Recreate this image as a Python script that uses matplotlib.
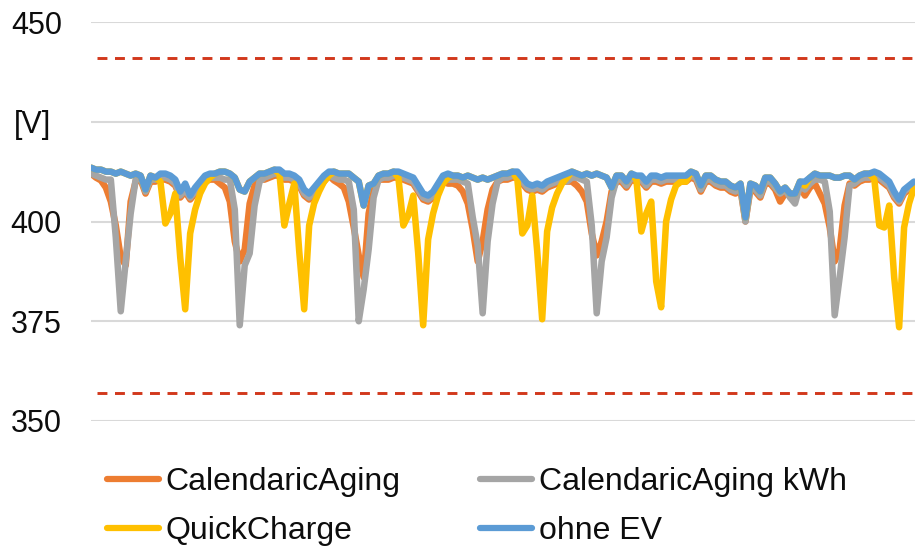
import numpy as np
import matplotlib
matplotlib.use("Agg")
import matplotlib.pyplot as plt
from matplotlib.lines import Line2D

plt.rcParams['font.family'] = ['Liberation Sans', 'DejaVu Sans']

# Hourly grid voltage over one week [V]
calendaric_aging = [
    412, 411, 410.3, 408.5, 405, 399, 391, 389, 405, 410, 410.5, 407, 410, 410, 410.5, 410.5, 410, 409, 406, 407.5, 405.5, 407, 408.5, 410,
    410.5, 410.5, 409.5, 408.5, 405, 395, 390, 393, 404.5, 409, 410.5, 410.5, 411, 411.5, 411.5, 410.5, 410.5, 410, 409, 406.5, 405.5, 407, 408.5, 410,
    411.5, 410.3, 409.5, 408.5, 405, 398.5, 391.5, 386, 402, 408, 410.5, 410.5, 410.5, 411, 411, 410.5, 410, 409.5, 407.5, 405.5, 405, 406, 408, 410,
    409.5, 409.5, 409, 407.5, 404.5, 398, 390, 395, 403, 408, 410, 410.5, 410.5, 411, 411, 409.5, 408, 407.5, 408, 407.5, 408.5, 409, 409.5, 410,
    410, 410, 409, 407.5, 405, 397, 391.5, 395, 400, 407.5, 410, 410, 408.5, 410.5, 410, 410, 408.5, 410, 410, 409.5, 410, 410, 410, 410,
    410, 411, 410.5, 407.5, 410, 410, 409, 408.5, 408.5, 407.5, 407, 408, 400, 408, 407.5, 406, 409.5, 409.5, 408, 405, 407, 406.5, 406, 408.5,
    406.5, 408.5, 409.5, 407, 404.5, 398.5, 390, 393, 404, 409.5, 409, 410, 410.5, 410.5, 411, 410.5, 409.5, 408.5, 406, 404.5, 407, 408, 409,
]

calendaric_aging_kwh = [
    412, 411.5, 411, 410.5, 410.5, 396, 377.5, 390, 402, 410.5, 411, 407.5, 410.5, 410.5, 411, 411, 410.5, 409.5, 406.5, 408, 406, 407.5, 409, 410.5,
    411, 411, 411, 410.5, 410.5, 403, 374, 389, 392, 404, 410, 411, 411.5, 412, 412, 411, 411, 410.5, 409.5, 407, 406, 407.5, 409, 410.5,
    411.5, 411, 410.5, 410.5, 410, 403, 375, 383, 393, 406, 410.5, 411, 411, 411.5, 411.5, 411, 410.5, 410, 408, 406, 405.5, 406.5, 408.5, 410.5,
    410.5, 410.5, 410.5, 410, 409.5, 401, 394, 377, 395, 404.5, 410, 411, 411, 411.5, 411.5, 410, 408.5, 408, 408.5, 408, 409, 409.5, 410, 410.5,
    410, 411, 411, 410.5, 410, 399, 377, 390, 396, 406, 410.5, 410.5, 409, 411, 410.5, 410.5, 409, 410.5, 410.5, 410, 410.5, 410.5, 410.5, 410.5,
    410.5, 411.5, 411, 408, 410.5, 410.5, 409.5, 409, 409, 408, 407.5, 408.5, 400, 408.5, 408, 406.5, 410, 410, 408.5, 407, 408, 406, 404.5, 409,
    408, 409.5, 410.5, 410.5, 410, 402.5, 376.5, 386, 396, 409, 409.5, 410.5, 411, 411, 411.5, 411, 410, 409, 406.5, 405, 407.5, 408.5, 409.5,
]

quick_charge = [
    413.5, 413, 413, 412.5, 412.5, 412, 412.5, 412, 411.5, 412, 411.5, 408, 411.5, 411, 410, 399.5, 402, 407, 391, 378, 397, 403, 407, 409.5,
    411, 412, 412.5, 412.5, 412, 411, 408, 407.5, 410, 411, 412, 412, 412.5, 413, 412, 399, 404.5, 409.5, 392.5, 378, 399, 404.5, 407.5, 410,
    411.5, 412.5, 412, 412, 412, 411, 410, 404, 409, 409.5, 411.5, 412, 412, 412.5, 411, 399, 401.5, 406.5, 392, 374, 395.5, 402, 406.5, 409.5,
    411, 411.5, 411.5, 411, 411.5, 411, 410.5, 411, 410.5, 411, 411.5, 412, 412, 412.5, 410.5, 397, 399, 406.5, 392.5, 375.5, 397.5, 403.5, 407, 409.5,
    411, 412.5, 412, 411.5, 412, 411.5, 412, 411.5, 411, 408.5, 411.5, 411.5, 410, 412, 410.5, 397.5, 402, 405, 385, 378.5, 400, 405.5, 409, 410,
    410, 412.5, 412, 409, 411.5, 411.5, 410.5, 410, 410, 409, 408.5, 409.5, 401, 409.5, 409, 407.5, 411, 411, 409.5, 407.5, 408.5, 407, 407, 410,
    409, 411, 412, 411.5, 411.5, 411.5, 411, 411, 411.5, 411.5, 410.5, 411.5, 412, 412, 410.5, 399, 398.5, 404, 386, 373.5, 398.5, 404.5, 408.5,
]

ohne_ev = [
    413.5, 413, 413, 412.5, 412.5, 412, 412.5, 412, 411.5, 412, 411.5, 408, 411.5, 411, 412, 412, 411.5, 410.5, 407.5, 409.5, 406.5, 408.5, 410, 411.5,
    412, 412, 412.5, 412.5, 412, 411, 408, 407.5, 410, 411, 412, 412, 412.5, 413, 413, 412, 412, 411.5, 410.5, 408, 407, 408.5, 410, 411.5,
    412.5, 412.5, 412, 412, 412, 411, 410, 404, 409, 409.5, 411.5, 412, 412, 412.5, 412.5, 412, 411.5, 411, 409, 407, 406.5, 407.5, 409.5, 411.5,
    412, 411.5, 411.5, 411, 411.5, 411, 410.5, 411, 410.5, 411, 411.5, 412, 412, 412.5, 412.5, 411, 409.5, 409, 409.5, 409, 410, 410.5, 411, 411.5,
    412, 412.5, 412, 411.5, 412, 411.5, 412, 411.5, 411, 408.5, 411.5, 411.5, 410, 412, 411.5, 411.5, 410, 411.5, 411.5, 411, 411.5, 411.5, 411.5, 411.5,
    411.5, 412.5, 412, 409, 411.5, 411.5, 410.5, 410, 410, 409, 408.5, 409.5, 401, 409.5, 409, 407.5, 411, 411, 409.5, 407.5, 408.5, 407, 407, 410,
    410, 411, 412, 411.5, 411.5, 411.5, 411, 411, 411.5, 411.5, 410.5, 411.5, 412, 412, 412.5, 412, 411, 410, 407.5, 405.5, 408, 409, 410,
]

series_labels = ["CalendaricAging", "CalendaricAging kWh", "QuickCharge", "ohne EV"]
series_colors = ["#ED7D31", "#A5A5A5", "#FFC000", "#5B9BD5"]

# voltage band limits
upper_limit = 441
lower_limit = 357

y_ticks = [350, 375, 400, 425, 450]
y_tick_labels = ["350", "375", "400", "", "450"]
unit_label = "[V]"

fig = plt.figure(figsize=(9.15, 5.46), dpi=100)
ax = fig.add_axes([91 / 915, 1 - 421 / 546, 824 / 915, 399 / 546])

hours = np.arange(len(ohne_ev))
all_series = [calendaric_aging, calendaric_aging_kwh, quick_charge, ohne_ev]
for vals, lab, col in zip(all_series, series_labels, series_colors):
    ax.plot(hours, vals, color=col, lw=4.7, solid_joinstyle='round',
            solid_capstyle='round', label=lab)

limit_color = "#D2381C"
for lim in (upper_limit, lower_limit):
    ax.axhline(lim, xmin=6 / 824, xmax=1, color=limit_color, lw=2.1,
               dashes=(3.4, 2.6), zorder=1)

ax.set_xlim(0, 166.2)
ax.set_ylim(350, 450)
ax.set_yticks(y_ticks)
ax.set_yticklabels(y_tick_labels)
ax.set_xticks([])
ax.yaxis.grid(True, color="#D9D9D9", lw=1.5)
ax.set_axisbelow(True)
for s in ax.spines.values():
    s.set_visible(False)
ax.tick_params(axis='y', length=0, pad=21, labelsize=22, labelcolor="#0d0d0d")
ax.text(-40 / 824, 425, unit_label, transform=ax.get_yaxis_transform(),
        ha='right', va='center_baseline', fontsize=22, color="#0d0d0d")

leg_handles = [Line2D([0], [0], color=c, lw=4.5, solid_capstyle='round')
               for c in series_colors]
order = [0, 2, 1, 3]
fig.legend([leg_handles[i] for i in order], [series_labels[i] for i in order],
           ncol=2, loc='upper left', bbox_to_anchor=(107 / 915, 1 - 467 / 546),
           frameon=False, borderpad=0, borderaxespad=0, handlelength=1.63,
           handletextpad=0.2, columnspacing=2.5, labelspacing=0.6,
           prop={'size': 23}, labelcolor="#0d0d0d")

fig.savefig("out.png", dpi=100)
